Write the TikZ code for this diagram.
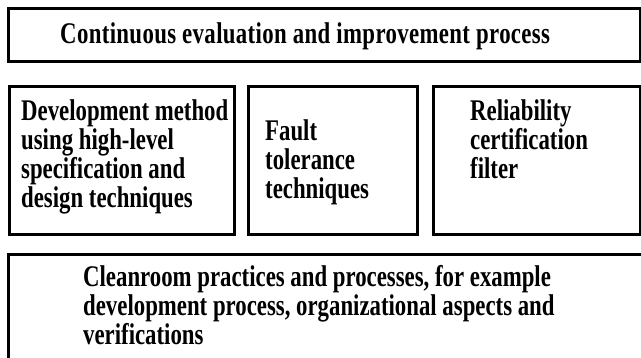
\documentclass[tikz,border=0pt]{standalone}
\usepackage{fontspec}
\newfontfamily\lblfont{Liberation Serif}[FakeStretch=0.76]
\begin{document}
\begin{tikzpicture}[x=1pt,y=-1pt,
  panel/.style={draw=black, line width=2.6pt, fill=white, inner sep=0pt, anchor=north west},
  label/.style={font=\lblfont\bfseries\fontsize{30}{29}\selectfont, align=left, inner sep=0pt, anchor=base west}]
  \useasboundingbox (0,0) rectangle (641,357);
  \clip (0,0) rectangle (641,357);
  % framing panels
  \node[panel, minimum width=632pt, minimum height=53pt] (top) at (7,7) {};
  \node[panel, minimum width=225pt, minimum height=148pt] (dev) at (8,85) {};
  \node[panel, minimum width=169pt, minimum height=148pt] (fault) at (247,85) {};
  \node[panel, minimum width=207pt, minimum height=148pt] (cert) at (432,85) {};
  \node[panel, minimum width=660pt, minimum height=130pt] (clean) at (7,253) {};
  % panel texts (anchored at the baseline of their last line)
  \node[label, font=\lblfont\bfseries\fontsize{30}{29}\addfontfeature{LetterSpace=1.2}] (toptxt) at (60,43) {Continuous evaluation and improvement process};
  \node[label] (devtxt) at (21,207) {Development method\\using high-level\\specification and\\design techniques};
  \node[label] (faulttxt) at (265,198) {Fault\\tolerance\\techniques};
  \node[label] (certtxt) at (470,178) {Reliability\\certification\\filter};
  \node[label] (cleantxt) at (83,344) {Cleanroom practices and processes, for example\\development process, organizational aspects and\\verifications};
\end{tikzpicture}
\end{document}
